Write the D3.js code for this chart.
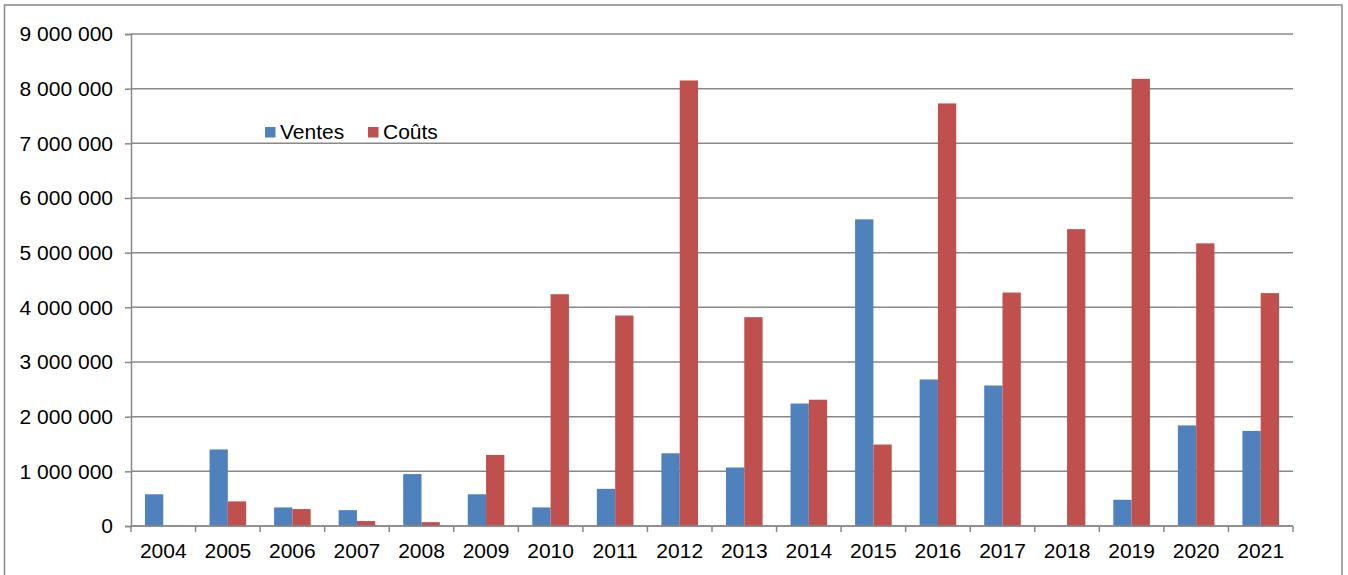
<!DOCTYPE html>
<html><head><meta charset="utf-8">
<script src="https://cdn.jsdelivr.net/npm/d3@7"></script>
<style>body{margin:0;background:#fff}svg{display:block;font-family:"Liberation Sans",Arial,sans-serif}</style>
</head><body>
<svg id="c" width="1348" height="575"></svg>
<script>
const years = ["2004","2005","2006","2007","2008","2009","2010","2011","2012","2013","2014","2015","2016","2017","2018","2019","2020","2021"];
const ventes = [580000,1400000,340000,290000,950000,580000,340000,680000,1330000,1070000,2240000,5610000,2680000,2570000,0,480000,1840000,1740000];
const couts = [0,450000,310000,90000,70000,1300000,4240000,3850000,8150000,3820000,2310000,1490000,7730000,4270000,5430000,8180000,5170000,4260000];
const yTicks = [0,1000000,2000000,3000000,4000000,5000000,6000000,7000000,8000000,9000000];
const seriesNames = ["Ventes","Coûts"];
const colors = ["#4F81BD","#C0504D"];

const svg = d3.select("#c");
const L=131, R=1293, T=34, B=526;
svg.append("rect").attr("x",4.5).attr("y",5).attr("width",1337.5).attr("height",600)
  .attr("fill","none").attr("stroke","#888").attr("stroke-width",1.5);

const x = d3.scaleBand().domain(years).range([L,R]).paddingInner(0.433).paddingOuter(0.2165);
const xs = d3.scaleBand().domain(seriesNames).range([0,x.bandwidth()]);
const y = d3.scaleLinear().domain([0,9000000]).range([B,T]);
const fmt = v => d3.format(",")(v).replace(/,/g," ");

// gridlines
svg.append("g").selectAll("line").data(yTicks).join("line")
  .attr("x1",L).attr("x2",R).attr("y1",d=>y(d)).attr("y2",d=>y(d))
  .attr("stroke","#888").attr("stroke-width",1.5);

// y axis
const ya = svg.append("g").attr("transform",`translate(${L},0)`)
  .call(d3.axisLeft(y).tickValues(yTicks).tickFormat(fmt).tickSize(6).tickPadding(12));
ya.select(".domain").attr("stroke","#888").attr("stroke-width",1.5);
ya.selectAll(".tick line").attr("stroke","#888").attr("stroke-width",1.5);
ya.selectAll("text").attr("font-size",21).attr("fill","#000").attr("font-family","Liberation Sans, Arial, sans-serif");

// bars
const data = years.map((yr,i)=>({yr,vals:[ventes[i],couts[i]]}));
const g = svg.append("g").selectAll("g").data(data).join("g")
  .attr("transform",d=>`translate(${x(d.yr)},0)`);
g.selectAll("rect").data(d=>d.vals.map((v,k)=>({v,k}))).join("rect")
  .attr("x",d=>xs(seriesNames[d.k])).attr("width",xs.bandwidth())
  .attr("y",d=>y(d.v)).attr("height",d=>B-y(d.v))
  .attr("fill",d=>colors[d.k]);

// x axis
const step = x.step();
const xa = svg.append("g");
xa.append("line").attr("x1",L).attr("x2",R).attr("y1",B).attr("y2",B).attr("stroke","#888").attr("stroke-width",1.5);
const edges = d3.range(years.length+1).map(i=>L + (R-L)*i/years.length);
xa.selectAll("line.t").data(edges).join("line").attr("class","t")
  .attr("x1",d=>d).attr("x2",d=>d).attr("y1",B).attr("y2",B+6).attr("stroke","#888").attr("stroke-width",1.5);
xa.selectAll("text").data(years).join("text")
  .attr("x",d=>x(d)+x.bandwidth()/2).attr("y",558)
  .attr("text-anchor","middle").attr("font-size",21).attr("fill","#000").text(d=>d);

// legend
const legX = [265,368];
const lg = svg.append("g");
seriesNames.forEach((n,i)=>{
  lg.append("rect").attr("x",legX[i]).attr("y",127).attr("width",10.5).attr("height",10.5).attr("fill",colors[i]);
  lg.append("text").attr("x",legX[i]+15).attr("y",138.5).attr("font-size",21).attr("fill","#000").text(n);
});
</script>
</body></html>
